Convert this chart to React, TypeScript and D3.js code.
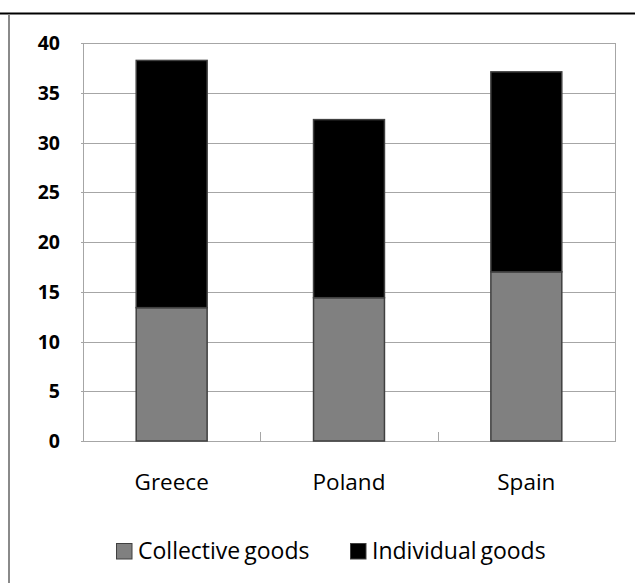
import React from "react";
import * as d3 from "d3";

const categories = ["Greece", "Poland", "Spain"];
const collectiveGoods = [13.4, 14.4, 17.0];
const individualGoods = [24.85, 17.9, 20.1];
const yTicks = [0, 5, 10, 15, 20, 25, 30, 35, 40];
const seriesNames = ["Collective goods", "Individual goods"];
const seriesColors = ["#808080", "#000000"];

const W = 635;
const H = 583;
const plot = { left: 83, right: 615, top: 43, bottom: 441 };
const FONT = "'Open Sans', 'Liberation Sans', sans-serif";

export default function App() {
  const x = d3
    .scaleBand<string>()
    .domain(categories)
    .range([plot.left, plot.right])
    .paddingInner(0)
    .paddingOuter(0);
  const y = d3.scaleLinear().domain([0, 40]).range([plot.bottom, plot.top]);

  const rows = categories.map((c, i) => ({
    cat: c,
    collective: collectiveGoods[i],
    individual: individualGoods[i],
  }));
  const stack = d3.stack<any>().keys(["collective", "individual"])(rows);

  const bw = x.bandwidth() * 0.4;
  const boundaries = d3.range(categories.length + 1).map((k) =>
    k < categories.length ? (x(categories[k]) as number) : plot.right
  );

  return (
    <svg
      width={W}
      height={H}
      style={{ position: "absolute", left: 0, top: 0, background: "#fff" }}
    >
      <rect x={0} y={0} width={W} height={H} fill="#ffffff" />
      {/* frame */}
      <line x1={0} x2={W} y1={13.5} y2={13.5} stroke="#000" strokeWidth={2} />
      <line x1={9} x2={9} y1={14} y2={H} stroke="#8a8a8a" strokeWidth={2} />

      {/* gridlines */}
      {yTicks.map((t) => (
        <line
          key={"g" + t}
          x1={plot.left - 2}
          x2={plot.right}
          y1={Math.round(y(t)) + 0.5}
          y2={Math.round(y(t)) + 0.5}
          stroke="#a6a6a6"
          strokeWidth={1}
        />
      ))}
      {/* plot border */}
      <rect
        x={plot.left + 0.5}
        y={plot.top + 0.5}
        width={plot.right - plot.left}
        height={plot.bottom - plot.top}
        fill="none"
        stroke="#a6a6a6"
        strokeWidth={1}
      />
      {/* category ticks */}
      {boundaries.map((bx, i) => (
        <line
          key={"t" + i}
          x1={Math.round(bx) + 0.5}
          x2={Math.round(bx) + 0.5}
          y1={plot.bottom - 9}
          y2={plot.bottom + 0.5}
          stroke="#a6a6a6"
          strokeWidth={1}
        />
      ))}

      {/* bars */}
      {stack.map((layer, li) =>
        layer.map((d, i) => {
          const cx = (x(categories[i]) as number) + x.bandwidth() / 2;
          const y0 = y(d[0]);
          const y1 = y(d[1]);
          return (
            <rect
              key={li + "-" + i}
              x={cx - bw / 2}
              y={y1}
              width={bw}
              height={y0 - y1}
              fill={seriesColors[li]}
              stroke="#404040"
              strokeWidth={1.5}
            />
          );
        })
      )}

      {/* y labels */}
      {yTicks.map((t) => (
        <text
          key={"l" + t}
          x={60}
          y={y(t)}
          dy="0.36em"
          textAnchor="end"
          fontFamily={FONT}
          fontWeight="bold"
          fontSize={19.5}
          fill="#000"
        >
          {t}
        </text>
      ))}

      {/* x labels */}
      {categories.map((c) => (
        <text
          key={c}
          x={(x(c) as number) + x.bandwidth() / 2}
          y={490}
          textAnchor="middle"
          fontFamily={FONT}
          fontSize={22.5}
          fill="#000"
        >
          {c}
        </text>
      ))}

      {/* legend */}
      {seriesNames.map((s, i) => {
        const sx = i === 0 ? 116 : 350;
        return (
          <g key={s}>
            <rect
              x={sx + 0.5}
              y={543.5}
              width={15.5}
              height={15.5}
              fill={seriesColors[i]}
              stroke="#404040"
              strokeWidth={1}
            />
            <text
              x={sx + 22}
              y={559}
              fontFamily={FONT}
              fontSize={23}
              wordSpacing={-2}
              fill="#000"
            >
              {s}
            </text>
          </g>
        );
      })}
    </svg>
  );
}
